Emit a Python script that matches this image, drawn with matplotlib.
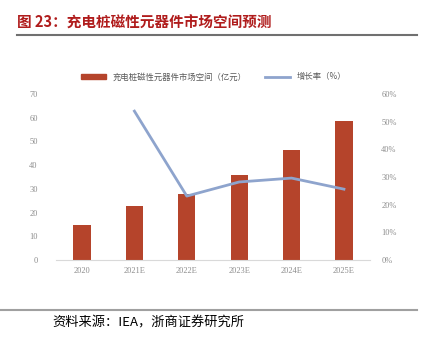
import matplotlib.pyplot as plt
from matplotlib.lines import Line2D

plt.rcParams['font.family'] = ['Noto Sans CJK SC', 'DejaVu Sans']

years = ["2020", "2021E", "2022E", "2023E", "2024E", "2025E"]
market = [14.8, 22.8, 28.0, 36.0, 46.5, 58.4]
growth = [None, 53.8, 23.1, 28.2, 29.6, 25.6]

bar_color = "#B5442B"
line_color = "#8EA4CD"
tick_color = "#8C8C8C"

fig = plt.figure(figsize=(4.23, 3.43), dpi=100)
ax = fig.add_axes([0.132, 0.242, 0.743, 0.484])
ax2 = ax.twinx()

x = list(range(len(years)))
ax.bar(x, market, width=0.33, color=bar_color, zorder=2)
gx = [i for i, g in zip(x, growth) if g is not None]
gy = [g for g in growth if g is not None]
ax2.plot(gx, gy, color=line_color, lw=2, zorder=3)

ax.set_xlim(-0.5, len(years) - 0.5)
ax.set_ylim(0, 70)
ax.set_yticks(range(0, 71, 10))
ax2.set_ylim(0, 60)
ax2.set_yticks(range(0, 61, 10))
ax2.set_yticklabels([f"{v}%" for v in range(0, 61, 10)])
ax.set_xticks(x)
ax.set_xticklabels(years)

for a in (ax, ax2):
    for s in a.spines.values():
        s.set_visible(False)
    a.tick_params(length=0, labelsize=6, labelcolor=tick_color)
    for lab in a.get_xticklabels() + a.get_yticklabels():
        lab.set_family("Liberation Serif")
ax.spines["bottom"].set_visible(True)
ax.spines["bottom"].set_color("#D9D9D9")
ax.tick_params(axis="y", pad=13)
ax.tick_params(axis="x", pad=5)
ax2.tick_params(axis="y", pad=8)

handles = [plt.Rectangle((0, 0), 1, 1, color=bar_color),
           Line2D([0], [0], color=line_color, lw=2)]
labels = ["充电桩磁性元器件市场空间（亿元）", "增长率（%）"]
fig.legend(handles, labels, loc="center", bbox_to_anchor=(0.505, 0.776), ncol=2,
           frameon=False, fontsize=6, labelcolor="#595959",
           handlelength=3.0, handleheight=0.6, columnspacing=2.2)

fig.text(0.04, 0.933, "图 23：充电桩磁性元器件市场空间预测", fontsize=10.5,
         fontweight="bold", color="#B01C1C", va="center")
fig.add_artist(Line2D([0.04, 0.985], [0.898, 0.898], color="#707070", lw=1.5))
fig.add_artist(Line2D([0.0, 0.985], [0.097, 0.097], color="#A0A0A0", lw=1.5))
fig.text(0.123, 0.058, "资料来源：IEA，浙商证券研究所", fontsize=9.5, color="black", va="center")

fig.savefig("out.png", dpi=100)
